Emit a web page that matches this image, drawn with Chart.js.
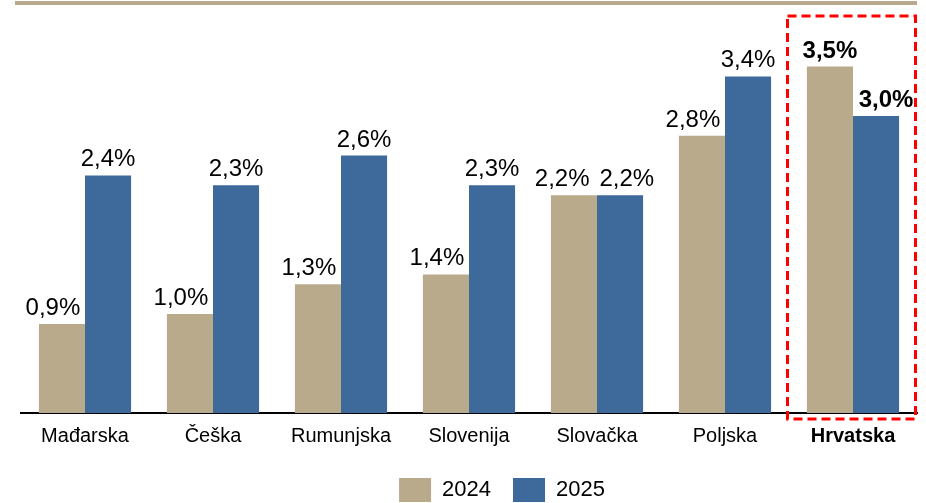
<!DOCTYPE html>
<html>
<head>
<meta charset="utf-8">
<script src="https://cdn.jsdelivr.net/npm/chart.js@4.4.1/dist/chart.umd.min.js"></script>
<style>
  html, body { margin: 0; padding: 0; background: #fff; }
  #wrap { width: 926px; height: 503px; }
</style>
</head>
<body>
<div id="wrap"><canvas id="mycanvas"></canvas></div>
<script>
var zemlje = ["Mađarska", "Češka", "Rumunjska", "Slovenija", "Slovačka", "Poljska", "Hrvatska"];
var godine = ["2024", "2025"];
var rast2024 = [0.9, 1.0, 1.3, 1.4, 2.2, 2.8, 3.5];
var rast2025 = [2.4, 2.3, 2.6, 2.3, 2.2, 3.4, 3.0];
var istaknuto = "Hrvatska";

var bojaTan = "#BAAA8C";
var bojaPlava = "#3D6A9B";
var istIdx = zemlje.indexOf(istaknuto);
var font = "'Liberation Sans', Arial, sans-serif";

function fmt(v) {
  return v.toFixed(1).replace(".", ",") + "%";
}

var ukrasi = {
  id: "ukrasi",
  afterLayout: function(chart) {
    // legend sits a bit right of centre in the original
    chart.legend.left += 33;
    chart.legend.right += 33;
  },
  beforeDraw: function(chart) {
    var ctx = chart.ctx;
    ctx.save();
    ctx.strokeStyle = bojaTan;
    ctx.lineWidth = 4;
    ctx.beginPath();
    ctx.moveTo(15, 3);
    ctx.lineTo(917, 3);
    ctx.stroke();
    ctx.restore();
  },
  afterDatasetsDraw: function(chart) {
    var ctx = chart.ctx;
    ctx.save();
    ctx.textAlign = "center";
    ctx.textBaseline = "alphabetic";
    ctx.fillStyle = "#000";
    var pomak = [-9, 0];
    for (var i = 0; i < zemlje.length; i++) {
      var bold = i === istIdx;
      ctx.font = (bold ? "bold " : "") + "24px " + font;
      var el = [chart.getDatasetMeta(0).data[i], chart.getDatasetMeta(1).data[i]];
      var txt = [fmt(rast2024[i]), fmt(rast2025[i])];
      var xs = [el[0].x + pomak[0], el[1].x + pomak[1]];
      if (bold) { xs = [el[0].x, el[1].x + 10]; }
      var w0 = ctx.measureText(txt[0]).width, w1 = ctx.measureText(txt[1]).width;
      var gap = (xs[1] - w1 / 2) - (xs[0] + w0 / 2);
      if (Math.abs(el[0].y - el[1].y) < 26 && gap < 10) {
        xs[0] -= (10 - gap) / 2 - 2;
        xs[1] += (10 - gap) / 2 + 2;
      }
      ctx.fillText(txt[0], xs[0], el[0].y - 9);
      ctx.fillText(txt[1], xs[1], el[1].y - 9);
    }
    ctx.restore();

    // red dashed frame around the highlighted country
    var x = chart.scales.x;
    var c = x.getPixelForValue(istIdx);
    var half = (x.right - x.left) / zemlje.length / 2;
    var ca = chart.chartArea;
    ctx.save();
    ctx.strokeStyle = "#FF0000";
    ctx.lineWidth = 3;
    ctx.setLineDash([9, 5]);
    ctx.strokeRect(c - half - 1.5, ca.top - 1, 2 * half, ca.bottom - ca.top + 7);
    ctx.restore();
  }
};

var chartdata = {
  labels: zemlje,
  datasets: [
    {
      label: godine[0],
      backgroundColor: bojaTan,
      borderWidth: 0,
      data: rast2024
    },
    {
      label: godine[1],
      backgroundColor: bojaPlava,
      borderWidth: 0,
      data: rast2025
    }
  ]
};

var ctx = document.getElementById("mycanvas");

var BarGraph = new Chart(ctx, {
  type: "bar",
  data: chartdata,
  plugins: [ukrasi],
  options: {
    responsive: true,
    maintainAspectRatio: false,
    animation: false,
    devicePixelRatio: 1,
    layout: { padding: { left: 21, right: 9, top: 17, bottom: -9 } },
    datasets: { bar: { categoryPercentage: 0.72, barPercentage: 1.0 } },
    scales: {
      x: {
        grid: { display: false, drawTicks: false },
        border: { display: true, color: "#000", width: 2 },
        ticks: {
          color: "#000",
          padding: 11,
          maxRotation: 0,
          font: function(c) {
            return {
              family: font,
              size: 20,
              weight: c.index === istIdx ? "bold" : "normal"
            };
          }
        },
        afterFit: function(scale) { scale.height = 43; }
      },
      y: {
        display: false,
        min: 0,
        max: 4
      }
    },
    plugins: {
      tooltip: { enabled: false },
      legend: {
        display: true,
        position: "bottom",
        labels: {
          boxWidth: 32,
          boxHeight: 24,
          padding: 22,
          color: "#000",
          font: { family: font, size: 22 }
        }
      }
    }
  }
});
</script>
</body>
</html>
